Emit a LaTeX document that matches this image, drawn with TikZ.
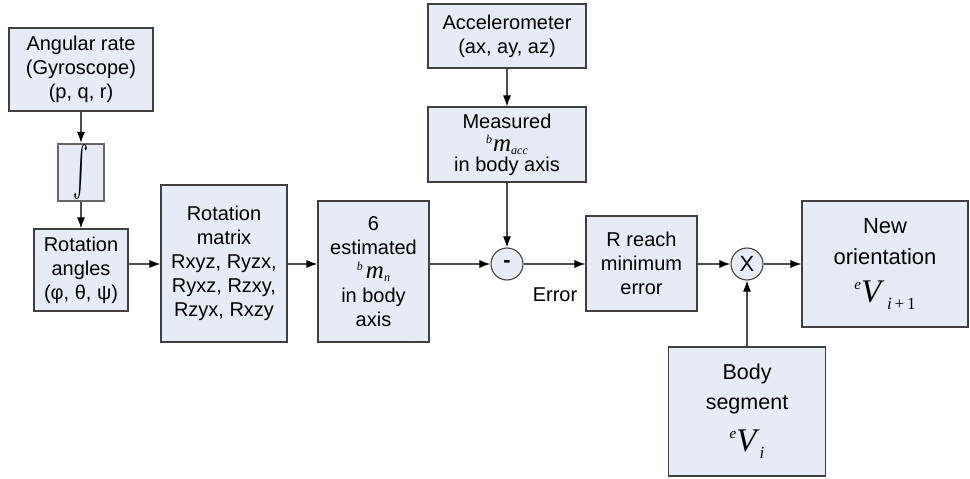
\documentclass[tikz,border=0pt]{standalone}
\usepackage{fontspec}
\setmainfont{Liberation Sans}
\newfontfamily\tms{Liberation Serif}
\usetikzlibrary{arrows.meta,calc}
\definecolor{boxfill}{RGB}{230,236,246}
\definecolor{edge}{RGB}{64,64,64}
\newcommand{\mbacc}{{\tms\itshape\raisebox{8pt}{\fontsize{12}{12}\selectfont b}\hspace{1pt}{\fontsize{25}{25}\selectfont m}\raisebox{-3pt}{\fontsize{12}{12}\selectfont acc}}}
\newcommand{\mbn}{{\tms\itshape\raisebox{8pt}{\fontsize{12}{12}\selectfont b}\hspace{3pt}{\fontsize{25}{25}\selectfont m}\raisebox{-3pt}{\fontsize{12}{12}\selectfont n}}}
\newcommand{\eVip}{{\tms\itshape\raisebox{13pt}{\fontsize{15}{15}\selectfont e}{\fontsize{33}{33}\selectfont V}\hspace{6pt}\raisebox{-7pt}{\fontsize{17}{17}\selectfont i\upshape\,+\,1}}}
\newcommand{\eVi}{{\tms\itshape\raisebox{13pt}{\fontsize{15}{15}\selectfont e}{\fontsize{33}{33}\selectfont V}\hspace{3pt}\raisebox{-7pt}{\fontsize{17}{17}\selectfont i}}}
\tikzset{
  blk/.style={draw=edge, line width=1.1pt, fill=boxfill, inner sep=0pt, align=center,
    font=\fontsize{20}{24}\selectfont},
  sumc/.style={circle, draw=edge, line width=1.1pt, fill=boxfill, minimum size=32pt,
    inner sep=0pt, font=\fontsize{22}{22}\selectfont},
  intbox/.style={draw=black!60, line width=2.2pt, fill=boxfill, inner sep=0pt},
  arr/.style={draw=black!70, line width=1.2pt, -{Latex[length=11pt,width=8pt,black]}},
  lbl/.style={font=\fontsize{20}{24}\selectfont, inner sep=0pt}
}
\begin{document}
\begin{tikzpicture}[x=1pt,y=-1pt]
\useasboundingbox (0,0) rectangle (970,479);
% boxes
\node[blk, minimum width=144pt, minimum height=83pt] (gy) at (81,69.5)
  {Angular rate\\(Gyroscope)\\(p, q, r)};
\node[intbox, minimum width=46pt, minimum height=57pt] (in) at (81,172.5)
  {\resizebox{15pt}{40pt}{$\int$}};
\node[blk, minimum width=94pt, minimum height=82pt] (ra) at (81,270)
  {Rotation\\angles\\(φ, θ, ψ)};
\node[blk, minimum width=126pt, minimum height=157pt] (rm) at (224,263.5)
  {Rotation\\matrix\\Rxyz, Ryzx,\\Ryxz, Rzxy,\\Rzyx, Rxzy};
\node[blk, minimum width=111pt, minimum height=141pt] (es) at (373.5,271.5)
  {6\\estimated\\\mbn\\in body\\axis};
\node[blk, minimum width=158pt, minimum height=64pt] (ac) at (507,36)
  {Accelerometer\\(ax, ay, az)};
\node[blk, minimum width=158pt, minimum height=75pt] (me) at (507,144.5)
  {Measured\\[-1pt]\mbacc\\[-4pt]in body axis};
\node[sumc] (mn) at (507,264) {\textbf{-}};
\node[blk, minimum width=111pt, minimum height=95pt] (rr) at (641.5,263.5)
  {R reach\\minimum\\error};
\node[sumc] (mx) at (747,264) {X};
\node[blk, minimum width=166pt, minimum height=126pt, font=\fontsize{22}{31}\selectfont] (no) at (885,264)
  {New\\orientation\\[7pt]\eVip};
\node[blk, minimum width=157pt, minimum height=129pt, font=\fontsize{21.5}{30}\selectfont] (bs) at (747,411.5)
  {Body\\segment\\[12pt]\eVi};
\node[lbl] (er) at (555,295) {Error};
% connectors
\draw[arr] (gy.south) -- (in.north);
\draw[arr] (in.south) -- (ra.north);
\draw[arr] (ra.east |- mn) -- (rm.west |- mn);
\draw[arr] (rm.east |- mn) -- (es.west |- mn);
\draw[arr] (es.east |- mn) -- (mn.west);
\draw[arr] (ac.south) -- (me.north);
\draw[arr] (me.south) -- (mn.north);
\draw[arr] (mn.east) -- (rr.west |- mn);
\draw[arr] (rr.east |- mn) -- (mx.west);
\draw[arr] (mx.east) -- (no.west |- mx);
\draw[arr] (bs.north -| mx) -- (mx.south);
\end{tikzpicture}
\end{document}
